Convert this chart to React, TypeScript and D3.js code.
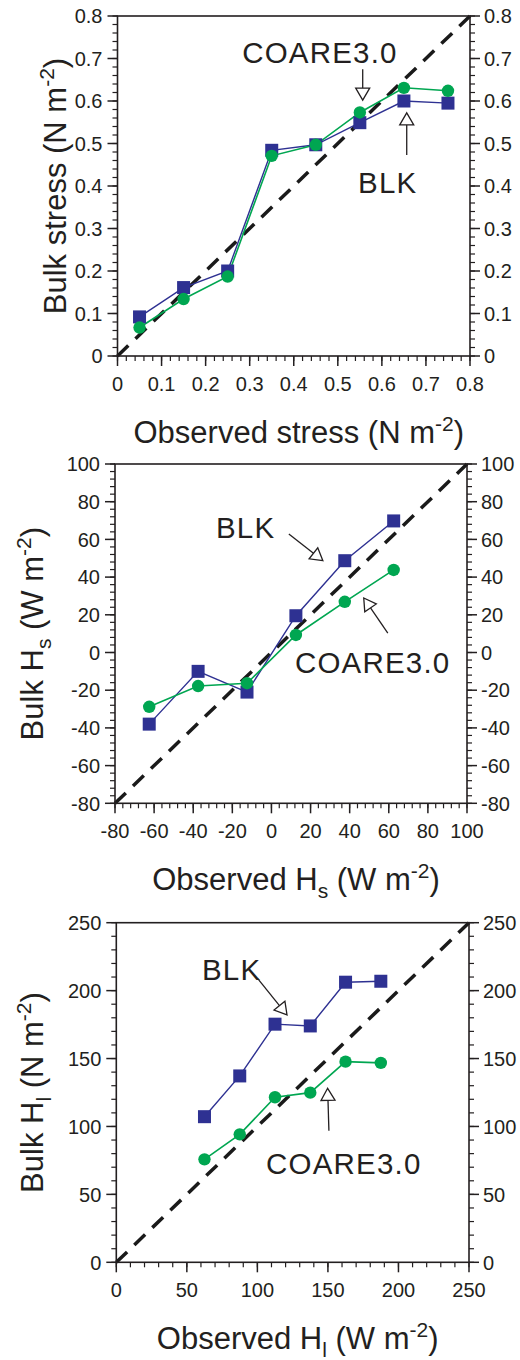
import React from "react";
import * as d3 from "d3";

// ---- data ----
const stressObs = [0.05, 0.15, 0.25, 0.35, 0.45, 0.55, 0.65, 0.75];
const stressBLK = [0.092, 0.161, 0.2, 0.484, 0.497, 0.549, 0.6, 0.595];
const stressCOARE = [0.067, 0.134, 0.187, 0.471, 0.497, 0.573, 0.631, 0.624];
const stressTicks = [0, 0.1, 0.2, 0.3, 0.4, 0.5, 0.6, 0.7, 0.8];

const hsObs = [-62.5, -37.5, -12.5, 12.5, 37.5, 62.5];
const hsBLK = [-38, -10, -21, 19.5, 48.7, 69.8];
const hsCOARE = [-28.8, -17.8, -16.3, 9.3, 26.9, 43.8];
const hsTicks = [-80, -60, -40, -20, 0, 20, 40, 60, 80, 100];

const hlObs = [62.5, 87.5, 112.5, 137.5, 162.5, 187.5];
const hlBLK = [107.2, 137.2, 175.3, 174, 206.2, 206.9];
const hlCOARE = [75.8, 94.2, 121.5, 124.9, 147.7, 146.8];
const hlTicks = [0, 50, 100, 150, 200, 250];

const FONT = "'Liberation Sans', Arial, Helvetica, sans-serif";
const INK = "#231f20";
const BLUE = "#2e3192";
const GREEN = "#00a651";

type Note = { text: string; tx: number; ty: number; from: [number, number]; to: [number, number] };

type PanelProps = {
  box: { left: number; right: number; top: number; bottom: number };
  domain: [number, number];
  ticks: number[];
  minorStep: number;
  fmt: (v: number) => string;
  obs: number[];
  blk: number[];
  coare: number[];
  xTitle: React.ReactNode;
  yTitle: React.ReactNode;
  yTitleX: number;
  notes: Note[];
};

function Title({ pre, sub, unit }: { pre: string; sub?: string; unit: string }) {
  return (
    <>
      {pre}
      {sub ? (
        <>
          <tspan fontSize={21} dy={8}>{sub}</tspan>
          <tspan dy={-8}>{" (" + unit + " m"}</tspan>
        </>
      ) : (
        <tspan>{" (" + unit + " m"}</tspan>
      )}
      <tspan fontSize={21} dy={-12}>-2</tspan>
      <tspan dy={12}>)</tspan>
    </>
  );
}

function Arrow({ from, to }: { from: [number, number]; to: [number, number] }) {
  const [x1, y1] = from;
  const [x2, y2] = to;
  const ang = Math.atan2(y2 - y1, x2 - x1);
  const len = 12;
  const half = 7;
  const bx = x2 - len * Math.cos(ang);
  const by = y2 - len * Math.sin(ang);
  const px = -Math.sin(ang) * half;
  const py = Math.cos(ang) * half;
  const pts = [
    [x2, y2],
    [bx + px, by + py],
    [bx - px, by - py],
  ]
    .map((p) => p.join(","))
    .join(" ");
  return (
    <g>
      <line x1={x1} y1={y1} x2={bx} y2={by} stroke={INK} strokeWidth={1.3} />
      <polygon points={pts} fill="#fff" stroke={INK} strokeWidth={1.3} strokeLinejoin="miter" />
    </g>
  );
}

function Panel(p: PanelProps) {
  const { box, domain } = p;
  const x = d3.scaleLinear().domain(domain).range([box.left, box.right]);
  const y = d3.scaleLinear().domain(domain).range([box.bottom, box.top]);
  const minor = d3.range(domain[0], domain[1] + p.minorStep / 2, p.minorStep);
  const line = d3
    .line<number>()
    .x((_, i) => x(p.obs[i]))
    .y((d) => y(d));
  const MAJ = 10;
  const MIN = 5;
  const cx = (box.left + box.right) / 2;
  const cy = (box.top + box.bottom) / 2;
  return (
    <g fontFamily={FONT} fill={INK}>
      {/* 1:1 reference line */}
      <line
        x1={x(domain[0])}
        y1={y(domain[0])}
        x2={x(domain[1])}
        y2={y(domain[1])}
        stroke="#1a1a1a"
        strokeWidth={3.5}
        strokeDasharray="15,10"
      />
      {/* series */}
      <path d={line(p.blk) || ""} fill="none" stroke={BLUE} strokeWidth={1.4} />
      <path d={line(p.coare) || ""} fill="none" stroke={GREEN} strokeWidth={1.6} />
      {p.blk.map((v, i) => (
        <rect key={"b" + i} x={x(p.obs[i]) - 6.5} y={y(v) - 6.5} width={13} height={13} fill={BLUE} />
      ))}
      {p.coare.map((v, i) => (
        <circle key={"c" + i} cx={x(p.obs[i])} cy={y(v)} r={6.2} fill={GREEN} />
      ))}
      {/* frame */}
      <rect
        x={box.left}
        y={box.top}
        width={box.right - box.left}
        height={box.bottom - box.top}
        fill="none"
        stroke={INK}
        strokeWidth={1.6}
      />
      {/* minor ticks */}
      {minor.map((v, i) => (
        <g key={"m" + i} stroke={INK} strokeWidth={1.2}>
          <line x1={box.left} x2={box.left - MIN} y1={y(v)} y2={y(v)} />
          <line x1={box.right} x2={box.right + MIN} y1={y(v)} y2={y(v)} />
          <line x1={x(v)} x2={x(v)} y1={box.bottom} y2={box.bottom + MIN} />
        </g>
      ))}
      {/* major ticks and labels */}
      {p.ticks.map((v, i) => (
        <g key={"t" + i}>
          <g stroke={INK} strokeWidth={1.5}>
            <line x1={box.left} x2={box.left - MAJ} y1={y(v)} y2={y(v)} />
            <line x1={box.right} x2={box.right + MAJ} y1={y(v)} y2={y(v)} />
            <line x1={x(v)} x2={x(v)} y1={box.bottom} y2={box.bottom + MAJ} />
          </g>
          <text x={box.left - 15} y={y(v) + 7.2} fontSize={20} textAnchor="end">
            {p.fmt(v)}
          </text>
          <text x={box.right + 14} y={y(v) + 7.2} fontSize={20} textAnchor="start">
            {p.fmt(v)}
          </text>
          <text x={x(v)} y={box.bottom + 35} fontSize={20} textAnchor="middle">
            {p.fmt(v)}
          </text>
        </g>
      ))}
      {/* axis titles */}
      <text x={cx + 5} y={box.bottom + 87} fontSize={31} textAnchor="middle">
        {p.xTitle}
      </text>
      <text
        transform={`translate(${p.yTitleX},${cy}) rotate(-90)`}
        fontSize={31}
        textAnchor="middle"
      >
        {p.yTitle}
      </text>
      {/* annotations */}
      {p.notes.map((n, i) => (
        <g key={"n" + i}>
          <text x={x(n.tx)} y={y(n.ty)} fontSize={29.5} letterSpacing={1.2}>
            {n.text}
          </text>
          <Arrow from={[x(n.from[0]), y(n.from[1])]} to={[x(n.to[0]), y(n.to[1])]} />
        </g>
      ))}
    </g>
  );
}

export default function App() {
  return (
    <svg
      width={520}
      height={1360}
      style={{ position: "absolute", left: 0, top: 0, background: "#fff" }}
    >
      <rect width={520} height={1360} fill="#fff" />
      <Panel
        box={{ left: 117.5, right: 470, top: 16, bottom: 356 }}
        domain={[0, 0.8]}
        ticks={stressTicks}
        minorStep={0.02}
        fmt={(v) => (v === 0 ? "0" : d3.format(".1f")(v))}
        obs={stressObs}
        blk={stressBLK}
        coare={stressCOARE}
        xTitle={<Title pre="Observed stress" unit="N" />}
        yTitle={<Title pre="Bulk stress" unit="N" />}
        yTitleX={66}
        notes={[
          { text: "COARE3.0", tx: 0.283, ty: 0.689, from: [0.5565, 0.675], to: [0.5565, 0.602] },
          { text: "BLK", tx: 0.546, ty: 0.3835, from: [0.6564, 0.473], to: [0.6564, 0.572] },
        ]}
      />
      <Panel
        box={{ left: 115, right: 467, top: 464, bottom: 803.3 }}
        domain={[-80, 100]}
        ticks={hsTicks}
        minorStep={4}
        fmt={(v) => String(v)}
        obs={hsObs}
        blk={hsBLK}
        coare={hsCOARE}
        xTitle={<Title pre="Observed H" sub="s" unit="W" />}
        yTitle={<Title pre="Bulk H" sub="s" unit="W" />}
        yTitleX={43}
        notes={[
          { text: "BLK", tx: -28.4, ty: 60.7, from: [8.9, 62.9], to: [26.3, 48.7] },
          { text: "COARE3.0", tx: 12.0, ty: -10.7, from: [59.5, 10.3], to: [47.2, 28.9] },
        ]}
      />
      <Panel
        box={{ left: 116.3, right: 469, top: 922.7, bottom: 1262.3 }}
        domain={[0, 250]}
        ticks={hlTicks}
        minorStep={10}
        fmt={(v) => String(v)}
        obs={hlObs}
        blk={hlBLK}
        coare={hlCOARE}
        xTitle={<Title pre="Observed H" sub="l" unit="W" />}
        yTitle={<Title pre="Bulk H" sub="l" unit="N" />}
        yTitleX={43}
        notes={[
          { text: "BLK", tx: 60.7, ty: 207.9, from: [100.4, 208.6], to: [121.0, 182.1] },
          { text: "COARE3.0", tx: 106.1, ty: 65.0, from: [150.7, 96.9], to: [149.8, 128.1] },
        ]}
      />
    </svg>
  );
}
